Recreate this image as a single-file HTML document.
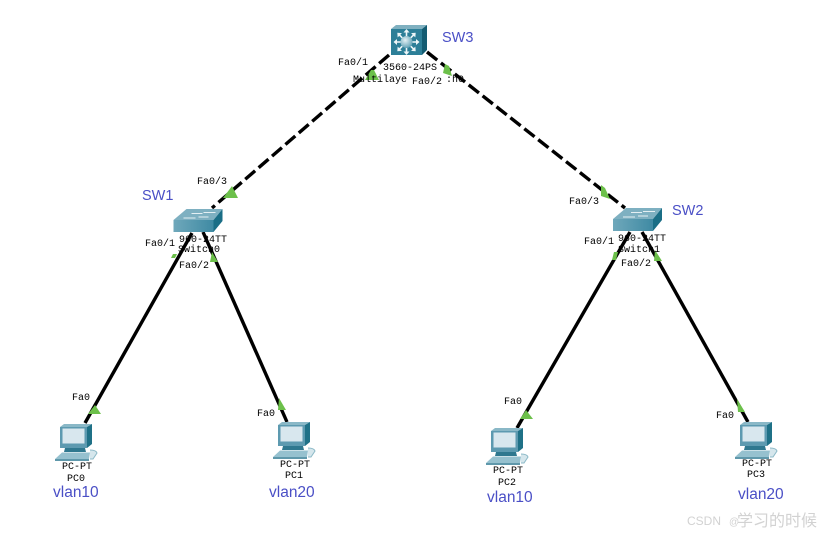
<!DOCTYPE html>
<html>
<head>
<meta charset="utf-8">
<style>
html,body{margin:0;padding:0;background:#fff;width:830px;height:536px;overflow:hidden}
svg{display:block}
.p{font-family:"Liberation Mono",monospace;font-size:10px;fill:#000}
.b{font-family:"Liberation Sans",sans-serif;fill:#4a4fc6}
.s{font-size:14.5px}
.v{font-size:15.5px}
.w{font-family:"Liberation Sans","Noto Sans CJK SC",sans-serif;fill:#d2d2d2}
</style>
</head>
<body>
<svg width="830" height="536" viewBox="0 0 830 536" xmlns="http://www.w3.org/2000/svg">
<defs>
<linearGradient id="front" x1="0" y1="0" x2="1" y2="0">
<stop offset="0" stop-color="#6fa8bb"/>
<stop offset="1" stop-color="#3f8aa3"/>
</linearGradient>
<radialGradient id="ball" cx="0.4" cy="0.35" r="0.7">
<stop offset="0" stop-color="#e4f1f5"/>
<stop offset="1" stop-color="#5d9fb3"/>
</radialGradient>
<g id="sw">
<polygon points="0,11 13,0 49,0 40,11" fill="#7eb0c1"/>
<rect x="0" y="11" width="40" height="12" fill="url(#front)"/>
<polygon points="40,11 49,0 49,12 40,23" fill="#1a6e86"/>
<path d="M10 9h12M18 4.500h11M30 3.500h12M25 8h10" stroke="#e4eff3" stroke-width="1" fill="none"/>
</g>
<g id="pc">
<polygon points="0,3 4,0 32,0 27,3" fill="#8ab8c7"/>
<rect x="0" y="3" width="27" height="21" fill="#5d9ab0"/>
<polygon points="27,3 32,0 32,20 27,24" fill="#1f7187"/>
<rect x="2.500" y="4.500" width="22" height="15" fill="#d8e7ee"/>
<polygon points="5,24 25,24 26,28 4,28" fill="#2f788f"/>
<polygon points="-5,35 2,28.500 30,28.500 29,35" fill="#96c1cf"/>
<polygon points="-5,35 29,35 29,37 -5,37" fill="#5f98ab"/>
<path d="M30 26q6 0 7 3l-4 6h-3" fill="#d5e6ec" stroke="#8cb9c7" stroke-width="1"/>
</g>
<polygon id="ah" points="0,-13 3,-9.500 0.800,-9.500 0.800,-6 -0.800,-6 -0.800,-9.500 -3,-9.500" fill="#eef6f8"/>
</defs>

<!-- links -->
<g stroke="#000" stroke-width="3.400" fill="none">
<line x1="389" y1="55" x2="212" y2="208" stroke-dasharray="13 4.700"/>
<line x1="427" y1="52" x2="625" y2="208" stroke-dasharray="13 4.700"/>
<line x1="192" y1="233" x2="85" y2="423"/>
<line x1="203" y1="232" x2="287" y2="422"/>
<line x1="630" y1="232" x2="517" y2="428"/>
<line x1="642" y1="232" x2="748" y2="422"/>
</g>

<!-- link lights -->
<g fill="#6cc04a">
<polygon points="371,70 374,70 379,80 365,80"/>
<polygon points="445,64 449,66 452,76 443,73"/>
<polygon points="232,186 238,198 223,198"/>
<polygon points="601,185 605,188 610,199 601,196"/>
<polygon points="173,254 177,254 175,258 171,258"/>
<polygon points="212,252 218,262 210,262"/>
<polygon points="614,252 618,252 616,260 612,260"/>
<polygon points="655,250 662,261 654,261"/>
<polygon points="95,405 101,414 88,414"/>
<polygon points="279,398 286,410 278,410"/>
<polygon points="526,410 533,419 520,419"/>
<polygon points="737,399 745,412 738,412"/>
</g>

<!-- SW3 -->
<g>
<polygon points="391,29 396,25 427,25 422,29" fill="#7fb0c0"/>
<rect x="391" y="29" width="31" height="26" fill="#2d7f98"/>
<polygon points="422,29 427,25 427,50 422,55" fill="#135c72"/>
<g transform="translate(406.500 42)">
<use href="#ah"/>
<use href="#ah" transform="rotate(45)"/>
<use href="#ah" transform="rotate(90)"/>
<use href="#ah" transform="rotate(135)"/>
<use href="#ah" transform="rotate(180)"/>
<use href="#ah" transform="rotate(225)"/>
<use href="#ah" transform="rotate(270)"/>
<use href="#ah" transform="rotate(315)"/>
<circle r="6" fill="url(#ball)"/>
</g>
</g>

<use href="#sw" x="173.500" y="209"/>
<use href="#sw" x="613" y="208"/>
<use href="#pc" x="60" y="424"/>
<use href="#pc" x="278" y="422"/>
<use href="#pc" x="491" y="428"/>
<use href="#pc" x="740" y="422"/>

<!-- port and device labels -->
<text class="p" x="338" y="65">Fa0/1</text>
<text class="p" x="383" y="70">3560-24PS</text>
<text class="p" x="353" y="82">Multilaye</text>
<text class="p" x="412" y="84">Fa0/2</text>
<text class="p" x="446" y="82">:h0</text>
<text class="p" x="197" y="184">Fa0/3</text>
<text class="p" x="569" y="204">Fa0/3</text>
<text class="p" x="145" y="246">Fa0/1</text>
<text class="p" x="179" y="242">960-24TT</text>
<text class="p" x="178" y="252">Switch0</text>
<text class="p" x="179" y="268">Fa0/2</text>
<text class="p" x="584" y="244">Fa0/1</text>
<text class="p" x="618" y="241">960-24TT</text>
<text class="p" x="618" y="252">Switch1</text>
<text class="p" x="621" y="266">Fa0/2</text>
<text class="p" x="72" y="400">Fa0</text>
<text class="p" x="257" y="416">Fa0</text>
<text class="p" x="504" y="404">Fa0</text>
<text class="p" x="716" y="418">Fa0</text>
<text class="p" x="62" y="469">PC-PT</text>
<text class="p" x="67" y="481">PC0</text>
<text class="p" x="280" y="467">PC-PT</text>
<text class="p" x="285" y="478">PC1</text>
<text class="p" x="493" y="473">PC-PT</text>
<text class="p" x="498" y="485">PC2</text>
<text class="p" x="742" y="466">PC-PT</text>
<text class="p" x="747" y="477">PC3</text>

<text class="b s" x="442" y="42">SW3</text>
<text class="b s" x="142" y="200">SW1</text>
<text class="b s" x="672" y="215">SW2</text>
<text class="b v" x="53" y="497">vlan10</text>
<text class="b v" x="269" y="497">vlan20</text>
<text class="b v" x="487" y="502">vlan10</text>
<text class="b v" x="738" y="499">vlan20</text>

<text class="w" x="687" y="525" font-size="12">CSDN</text>
<text class="w" x="729" y="525" font-size="10">@</text>
<text class="w" x="737" y="526" font-size="16">学习的时候</text>
</svg>
</body>
</html>
